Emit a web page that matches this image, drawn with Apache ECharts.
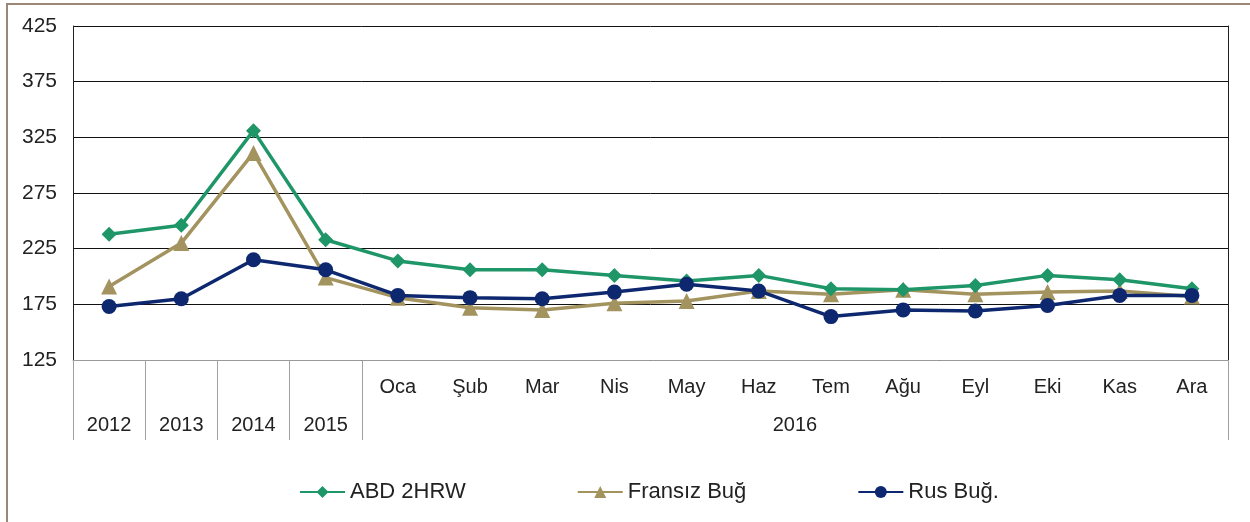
<!DOCTYPE html>
<html>
<head>
<meta charset="utf-8">
<script src="https://cdn.jsdelivr.net/npm/echarts@6/dist/echarts.min.js"></script>
<style>
    html, body { margin: 0; padding: 0; background: #fff; }
    #frame { position: absolute; left: 6px; top: 3px; width: 1244px; height: 519px;
             border-top: 2px solid #9c8676; border-left: 2px solid #9c8676; box-sizing: border-box; }
    #chart { position: absolute; left: 0; top: 0; width: 1250px; height: 522px; }
</style>
</head>
<body>
<div id="frame"></div>
<div id="chart"></div>
<script>
    // column groups: yearly averages then 2016 months
    const years = ['2012', '2013', '2014', '2015'];
    const months = ['Oca', 'Şub', 'Mar', 'Nis', 'May', 'Haz', 'Tem', 'Ağu', 'Eyl', 'Eki', 'Kas', 'Ara'];
    const monthYear = '2016';

    const abd2hrw = [238, 246, 331, 233, 214, 206, 206, 201, 196, 201, 189, 188, 192, 201, 197, 189];
    const fransiz = [191, 230, 311, 199, 181, 172, 170, 176, 178, 187, 184, 188, 184, 186, 187, 182];
    const rus = [173, 180, 215, 206, 183, 181, 180, 186, 193, 187, 164, 170, 169, 174, 183, 183];

    const yTicks = [125, 175, 225, 275, 325, 375, 425];

    const categories = years.concat(months);
    const monthRow = years.map(() => '').concat(months);

    // group row positions (in column units on the helper axis)
    const groupLabels = {};
    years.forEach((y, i) => { groupLabels[i + 0.5] = y; });
    groupLabels[years.length + months.length / 2] = monthYear;
    const groupBounds = [0, 1, 2, 3, 4, categories.length];

    const font = 'Liberation Sans, Arial, sans-serif';

    let myChart = echarts.init(document.getElementById('chart'));
    let option = {
        animation: false,
        grid: {left: 73, right: 22, top: 26, bottom: 162},
        legend: {
            left: 294,
            top: 476,
            itemWidth: 45,
            itemHeight: 15,
            itemGap: 111,
            textStyle: {fontFamily: font, fontSize: 22, color: '#222'},
            data: ['ABD 2HRW', 'Fransız Buğ', 'Rus Buğ.']
        },
        xAxis: [
            {
                type: 'category',
                data: categories,
                boundaryGap: true,
                axisLine: {lineStyle: {color: '#9a9a9a', width: 1}},
                axisTick: {show: false},
                axisLabel: {
                    interval: 0,
                    margin: 17,
                    fontFamily: font,
                    fontSize: 20,
                    color: '#222',
                    formatter: (v, i) => monthRow[i]
                }
            },
            {
                type: 'value',
                position: 'bottom',
                min: 0,
                max: categories.length,
                interval: 0.5,
                axisLine: {show: false},
                splitLine: {show: false},
                axisTick: {
                    show: true,
                    length: 80,
                    customValues: groupBounds,
                    lineStyle: {color: '#a0a0a0', width: 1}
                },
                axisLabel: {
                    margin: 55,
                    customValues: Object.keys(groupLabels).map(Number),
                    fontFamily: font,
                    fontSize: 20,
                    color: '#222',
                    formatter: v => groupLabels[v] || ''
                }
            }
        ],
        yAxis: [
            {
                type: 'value',
                min: 125,
                max: 425,
                interval: 50,
                axisLine: {show: true, lineStyle: {color: '#222', width: 1}},
                axisTick: {show: false},
                splitLine: {lineStyle: {color: '#111', width: 1}},
                axisLabel: {
                    margin: 16,
                    fontFamily: font,
                    fontSize: 21,
                    color: '#222',
                    customValues: yTicks
                }
            },
            {
                type: 'value',
                position: 'right',
                min: 125,
                max: 425,
                interval: 50,
                axisLine: {show: true, lineStyle: {color: '#222', width: 1}},
                axisTick: {show: false},
                axisLabel: {show: false},
                splitLine: {show: false}
            }
        ],
        series: [
            {
                name: 'ABD 2HRW',
                type: 'line',
                data: abd2hrw,
                symbol: 'diamond',
                symbolSize: 15,
                lineStyle: {width: 3.5},
                itemStyle: {color: '#1f9668'},
                z: 3
            },
            {
                name: 'Fransız Buğ',
                type: 'line',
                data: fransiz,
                symbol: 'triangle',
                symbolSize: 16,
                lineStyle: {width: 3.5},
                itemStyle: {color: '#a3935f'},
                z: 2
            },
            {
                name: 'Rus Buğ.',
                type: 'line',
                data: rus,
                symbol: 'circle',
                symbolSize: 15,
                lineStyle: {width: 3.5},
                itemStyle: {color: '#0e2870'},
                z: 4
            }
        ]
    };
    myChart.setOption(option);
</script>
</body>
</html>
